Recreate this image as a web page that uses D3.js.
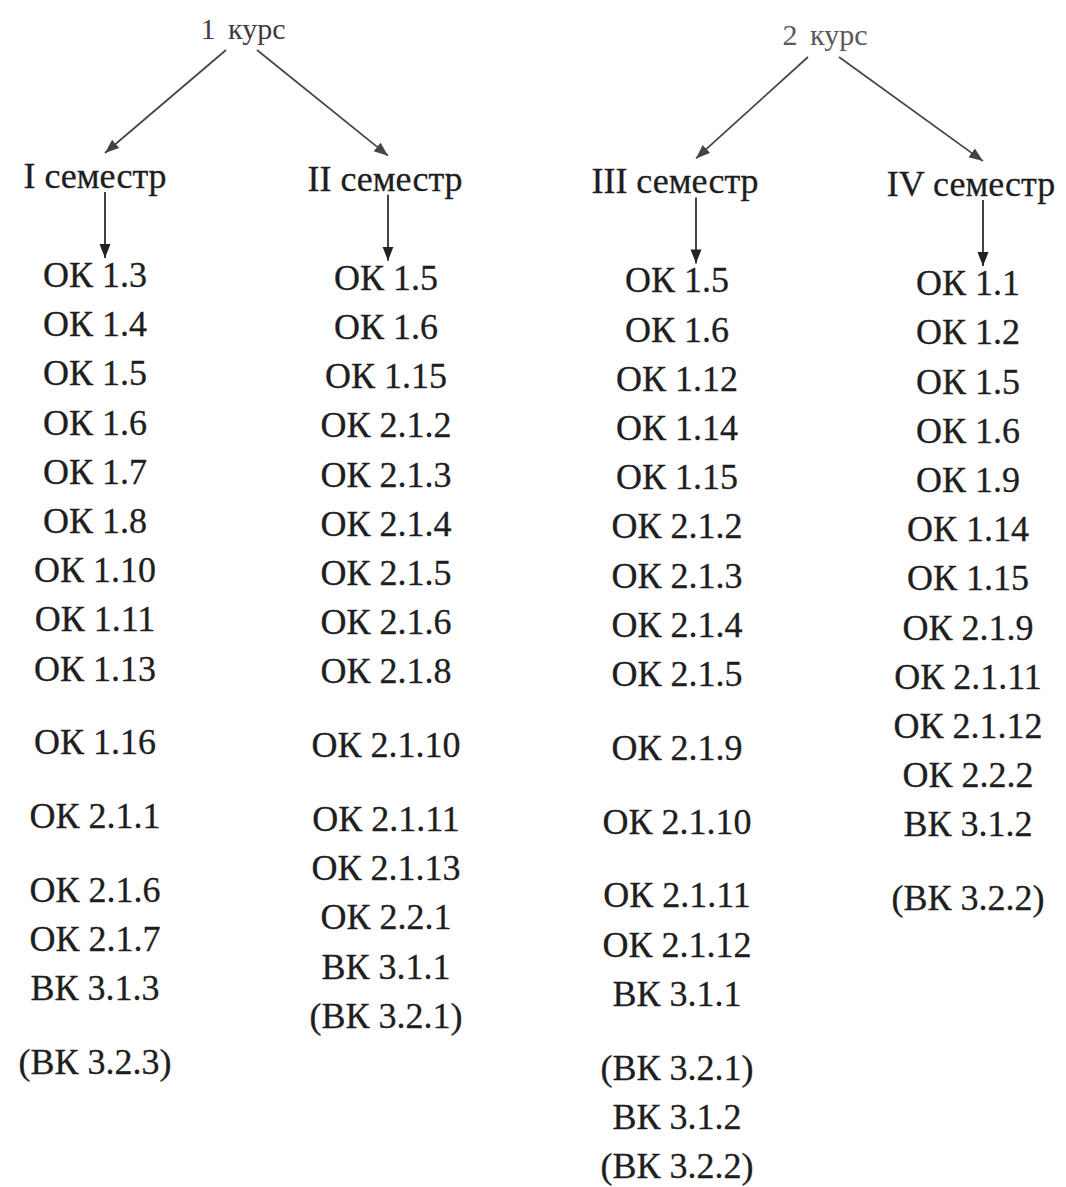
<!DOCTYPE html>
<html>
<head>
<meta charset="utf-8">
<script src="https://cdn.jsdelivr.net/npm/d3@7"></script>
<style>
  body { margin: 0; background: #fff; }
</style>
</head>
<body>
<script>
var w = 1066;
var h = 1187;
var font = "'Liberation Serif', 'Times New Roman', Times, serif";

// courses and their semesters
var courses = ["1 курс", "2 курс"];
var semesters = ["I семестр", "II семестр", "III семестр", "IV семестр"];

// competences per semester
var sem1 = ["ОК 1.3", "ОК 1.4", "ОК 1.5", "ОК 1.6", "ОК 1.7", "ОК 1.8", "ОК 1.10", "ОК 1.11",
            "ОК 1.13", "ОК 1.16", "ОК 2.1.1", "ОК 2.1.6", "ОК 2.1.7", "ВК 3.1.3", "(ВК 3.2.3)"];
var sem2 = ["ОК 1.5", "ОК 1.6", "ОК 1.15", "ОК 2.1.2", "ОК 2.1.3", "ОК 2.1.4", "ОК 2.1.5", "ОК 2.1.6",
            "ОК 2.1.8", "ОК 2.1.10", "ОК 2.1.11", "ОК 2.1.13", "ОК 2.2.1", "ВК 3.1.1", "(ВК 3.2.1)"];
var sem3 = ["ОК 1.5", "ОК 1.6", "ОК 1.12", "ОК 1.14", "ОК 1.15", "ОК 2.1.2", "ОК 2.1.3", "ОК 2.1.4",
            "ОК 2.1.5", "ОК 2.1.9", "ОК 2.1.10", "ОК 2.1.11", "ОК 2.1.12", "ВК 3.1.1", "(ВК 3.2.1)",
            "ВК 3.1.2", "(ВК 3.2.2)"];
var sem4 = ["ОК 1.1", "ОК 1.2", "ОК 1.5", "ОК 1.6", "ОК 1.9", "ОК 1.14", "ОК 1.15", "ОК 2.1.9",
            "ОК 2.1.11", "ОК 2.1.12", "ОК 2.2.2", "ВК 3.1.2", "(ВК 3.2.2)"];

// items that come after a wider blank line
var sem1Gaps = ["ОК 1.16", "ОК 2.1.1", "ОК 2.1.6", "(ВК 3.2.3)"];
var sem2Gaps = ["ОК 2.1.10", "ОК 2.1.11"];
var sem3Gaps = ["ОК 2.1.9", "ОК 2.1.10", "ОК 2.1.11", "(ВК 3.2.1)"];
var sem4Gaps = ["(ВК 3.2.2)"];

var lists = [sem1, sem2, sem3, sem4];
var gaps = [sem1Gaps, sem2Gaps, sem3Gaps, sem4Gaps];

// layout
var stemDx = [10, 2, 19, 15];   // arrows are not quite centred in the scan
var semDx = [0, -1, -2, 3];
var skew = 2.7;                 // scan is slightly tilted

var x = d3.scalePoint()
    .domain(semesters)
    .range([95, 968]);

var courseX = d3.scalePoint()
    .domain(courses)
    .range([243, 825]);

var svg = d3.select("body")
    .append("svg")
    .attr("width", w)
    .attr("height", h);

var defs = svg.append("defs");
[["headGrey", "#444"], ["headDark", "#222"]].forEach(function(m) {
    defs.append("marker")
        .attr("id", m[0])
        .attr("viewBox", "0 -6 14 12")
        .attr("refX", 14)
        .attr("refY", 0)
        .attr("markerUnits", "userSpaceOnUse")
        .attr("markerWidth", 14)
        .attr("markerHeight", 12)
        .attr("orient", "auto")
        .append("path")
        .attr("d", "M0,-5.5L14,0L0,5.5Z")
        .attr("fill", m[1]);
});

// course labels
svg.selectAll(".course")
    .data(courses)
    .enter()
    .append("text")
    .attr("class", "course")
    .attr("x", function(d) { return courseX(d); })
    .attr("y", function(d, i) { return 39 + i * 6; })
    .attr("text-anchor", "middle")
    .attr("font-family", font)
    .attr("font-size", 30)
    .attr("word-spacing", 5)
    .attr("fill", function(d, i) { return i == 0 ? "#46383f" : "#5a5a5a"; })
    .text(function(d) { return d; });

function semBase(i) { return 188 + i * skew; }
function stemX(i) { return x(semesters[i]) + stemDx[i]; }

// course -> semester arrows
svg.selectAll(".courseArrow")
    .data(semesters)
    .enter()
    .append("line")
    .attr("class", "courseArrow")
    .attr("x1", function(d, i) {
        var c = courseX(courses[Math.floor(i / 2)]);
        return i % 2 == 0 ? c - 17 : c + 14;
    })
    .attr("y1", function(d, i) { return 50 + Math.floor(i / 2) * 7; })
    .attr("x2", function(d, i) { return stemX(i); })
    .attr("y2", function(d, i) { return semBase(i) - 35; })
    .attr("stroke", "#444")
    .attr("stroke-width", 1.7)
    .attr("marker-end", "url(#headGrey)");

// semester labels
svg.selectAll(".sem")
    .data(semesters)
    .enter()
    .append("text")
    .attr("class", "sem")
    .attr("x", function(d, i) { return x(d) + semDx[i]; })
    .attr("y", function(d, i) { return semBase(i); })
    .attr("text-anchor", "middle")
    .attr("font-family", font)
    .attr("font-size", 36)
    .attr("fill", "#1e1e1e")
    .attr("stroke", "#1e1e1e")
    .attr("stroke-width", 0.3)
    .text(function(d) { return d; });

// row positions, half-row extra before gap items
var rowH = 49.2;
function rows(list, gapList) {
    var r = -1;
    return list.map(function(d) {
        r += gapList.indexOf(d) >= 0 ? 1.5 : 1;
        return { label: d, row: r };
    });
}

lists.forEach(function(list, i) {
    var y = d3.scaleLinear()
        .domain([0, 1])
        .range([287 + i * skew, 287 + i * skew + rowH]);

    // semester -> list arrow
    svg.append("line")
        .attr("x1", stemX(i))
        .attr("y1", semBase(i) + 4)
        .attr("x2", stemX(i))
        .attr("y2", y(0) - 29)
        .attr("stroke", "#222")
        .attr("stroke-width", 1.7)
        .attr("marker-end", "url(#headDark)");

    svg.append("g")
        .selectAll("text")
        .data(rows(list, gaps[i]))
        .enter()
        .append("text")
        .attr("x", x(semesters[i]))
        .attr("y", function(d) { return y(d.row); })
        .attr("text-anchor", "middle")
        .attr("font-family", font)
        .attr("font-size", 36)
        .attr("fill", "#1e1e1e")
        .attr("stroke", "#1e1e1e")
        .attr("stroke-width", 0.3)
        .text(function(d) { return d.label; });
});
</script>
</body>
</html>
